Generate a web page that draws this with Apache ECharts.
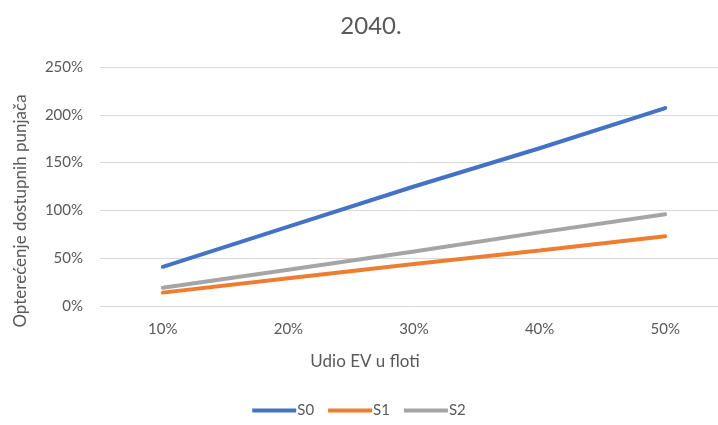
<!DOCTYPE html>
<html>
<head>
<meta charset="utf-8">
<script src="https://cdn.jsdelivr.net/npm/echarts@6/dist/echarts.min.js"></script>
<style>
  html, body { margin: 0; padding: 0; background: #fff; }
  #chart { width: 718px; height: 425px; }
</style>
</head>
<body>
<div id="chart"></div>
<script>
// udio EV u floti (x kategorije)
const categories = ['10%', '20%', '30%', '40%', '50%']
// opterećenje punjača u %, očitano sa slike
const s0 = [41, 83, 125, 165, 207]
const s1 = [14, 29, 44, 58, 73]
const s2 = [19, 38, 57, 77, 96]
const seriesNames = ['S0', 'S1', 'S2']
const colors = ['#4472C4', '#ED7D31', '#A5A5A5']

const font = 'Lato, "Open Sans", sans-serif'
const txt = '#595959'

const chart = echarts.init(document.getElementById('chart'))
const option = {
  animation: false,
  color: colors,
  textStyle: { fontFamily: font },
  title: {
    text: '2040.',
    left: 366,
    top: 9,
    textAlign: 'center',
    textStyle: { color: txt, fontSize: 24, fontWeight: 'normal', fontFamily: font }
  },
  legend: {
    bottom: 2,
    left: 'center',
    icon: 'rect',
    itemWidth: 44,
    itemHeight: 4,
    itemGap: 14,
    textStyle: { color: txt, fontSize: 15, padding: [0, 0, 0, -4] },
    data: seriesNames
  },
  grid: {
    left: 100,
    right: -10,
    top: 67,
    bottom: 119,
    outerBoundsMode: 'none'
  },
  xAxis: {
    type: 'category',
    data: categories,
    boundaryGap: true,
    axisLine: { show: false },
    axisTick: { show: false },
    axisLabel: { color: txt, fontSize: 15, margin: 16 }
  },
  yAxis: {
    type: 'value',
    min: 0,
    max: 250,
    interval: 50,
    axisLine: { show: false },
    axisTick: { show: false },
    splitLine: { lineStyle: { color: '#D9D9D9', width: 1 } },
    axisLabel: {
      color: txt,
      fontSize: 15,
      margin: 17,
      formatter: '{value}%'
    }
  },
  graphic: [
    {
      type: 'text',
      x: 365,
      y: 362,
      style: {
        text: 'Udio EV u floti',
        fill: txt,
        font: '17px ' + font,
        textAlign: 'center',
        textVerticalAlign: 'middle'
      }
    },
    {
      type: 'text',
      x: 21,
      y: 211,
      rotation: Math.PI / 2,
      style: {
        text: 'Opterećenje dostupnih punjača',
        fill: txt,
        font: '17px ' + font,
        textAlign: 'center',
        textVerticalAlign: 'middle'
      }
    }
  ],
  series: [
    { name: 'S0', type: 'line', data: s0 },
    { name: 'S1', type: 'line', data: s1 },
    { name: 'S2', type: 'line', data: s2 }
  ].map(s => Object.assign(s, {
    showSymbol: false,
    symbol: 'none',
    lineStyle: { width: 4, cap: 'round' }
  }))
}
chart.setOption(option)
</script>
</body>
</html>
